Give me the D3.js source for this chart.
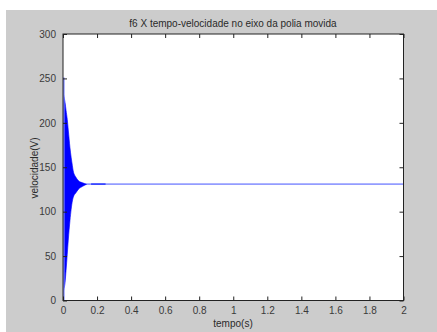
<!DOCTYPE html>
<html>
<head>
<meta charset="utf-8">
<script src="https://cdn.jsdelivr.net/npm/d3@7"></script>
<style>
  html, body { margin: 0; padding: 0; background: #ffffff; }
  svg { display: block; }
  text { font-family: "Liberation Sans", Arial, Helvetica, sans-serif; }
</style>
</head>
<body>
<svg id="chart" width="437" height="332"></svg>
<script>
// ---- data ----
const titleText = "f6 X tempo-velocidade no eixo da polia movida";
const xLabelText = "tempo(s)";
const yLabelText = "velocidade(V)";
const xTicks = [0, 0.2, 0.4, 0.6, 0.8, 1, 1.2, 1.4, 1.6, 1.8, 2];
const yTicks = [0, 50, 100, 150, 200, 250, 300];
// envelope of the fast oscillation during the transient
const envTime  = [0, 0.004, 0.012, 0.018, 0.025, 0.031, 0.041, 0.055, 0.06, 0.075, 0.09, 0.115, 0.14];
const envUpper = [234, 231, 223, 214, 204, 192, 172, 152, 146, 139, 135, 132.5, 131];
const envLower = [8, 12, 20, 34, 52, 68, 90, 112, 116, 121, 125, 128.5, 131];
// initial spike at t = 0
const spikeTime = [0, 0];
const spikeValue = [0, 251];
// steady state trace
const steadyTime = [0.14, 2];
const steadyValue = [131, 131];
// small residual ripple segment
const rippleTime = [0.165, 0.25];
const rippleValue = [131, 131];

// ---- layout ----
const svg = d3.select("#chart");
const W = 437, H = 332;
const m = { left: 63, right: 403.5, top: 34, bottom: 300.5 };

svg.append("rect").attr("x", 6).attr("y", 10).attr("width", W - 6).attr("height", H - 10)
  .attr("fill", "#cccccc");

const x = d3.scaleLinear().domain([0, 2]).range([m.left, m.right]);
const y = d3.scaleLinear().domain([0, 300]).range([m.bottom, m.top]);

svg.append("rect").attr("x", m.left).attr("y", m.top)
  .attr("width", m.right - m.left).attr("height", m.bottom - m.top)
  .attr("fill", "#ffffff");

svg.append("clipPath").attr("id", "clip").append("rect")
  .attr("x", m.left).attr("y", m.top).attr("width", m.right - m.left).attr("height", m.bottom - m.top);

const plot = svg.append("g").attr("clip-path", "url(#clip)");

// steady trace
const line = d3.line().x(d => x(d[0])).y(d => y(d[1]));
plot.append("path").datum(d3.zip(steadyTime, steadyValue)).attr("d", line)
  .attr("fill", "none").attr("stroke", "#939cff").attr("stroke-width", 1.9);
plot.append("path").datum(d3.zip(rippleTime, rippleValue)).attr("d", line)
  .attr("fill", "none").attr("stroke", "#3a48ff").attr("stroke-width", 1.6);

// oscillation envelope
const area = d3.area().x(d => x(d[0])).y0(d => y(d[2])).y1(d => y(d[1])).curve(d3.curveMonotoneX);
plot.append("path").datum(d3.zip(envTime, envUpper, envLower)).attr("d", area)
  .attr("fill", "#0000ff").attr("stroke", "#0000ff").attr("stroke-width", 0.6);

// initial spike
plot.append("path").datum(d3.zip(spikeTime, spikeValue)).attr("d", line)
  .attr("fill", "none").attr("stroke", "#7d86ff").attr("stroke-width", 1.6)
  .attr("transform", "translate(0.8,0)");

// ---- axes (MATLAB style, ticks inside, on all four sides) ----
const axColor = "#222222";
const fmt = d => String(+d.toFixed(1));
function styleAxis(g) {
  g.select(".domain").remove();
  g.selectAll(".tick line").attr("stroke", axColor).attr("stroke-width", 1);
  g.selectAll(".tick text").attr("fill", "#3a3a3a").style("font-size", "10px")
    .style("font-family", "'Liberation Sans', Arial, sans-serif");
}
svg.append("g").attr("transform", `translate(0,${m.bottom})`)
  .call(d3.axisBottom(x).tickValues(xTicks).tickFormat(fmt).tickSizeInner(-4).tickSizeOuter(0).tickPadding(6))
  .call(styleAxis);
svg.append("g").attr("transform", `translate(0,${m.top})`)
  .call(d3.axisTop(x).tickValues(xTicks).tickFormat("").tickSizeInner(-4).tickSizeOuter(0))
  .call(styleAxis);
svg.append("g").attr("transform", `translate(${m.left},0)`)
  .call(d3.axisLeft(y).tickValues(yTicks).tickFormat(d3.format("d")).tickSizeInner(-4).tickSizeOuter(0).tickPadding(7))
  .call(styleAxis);
svg.append("g").attr("transform", `translate(${m.right},0)`)
  .call(d3.axisRight(y).tickValues(yTicks).tickFormat("").tickSizeInner(-4).tickSizeOuter(0))
  .call(styleAxis);

// box
svg.append("rect").attr("x", m.left).attr("y", m.top)
  .attr("width", m.right - m.left).attr("height", m.bottom - m.top)
  .attr("fill", "none").attr("stroke", axColor).attr("stroke-width", 1);

// ---- texts ----
svg.append("text").attr("x", 233).attr("y", 27).attr("text-anchor", "middle")
  .attr("fill", "#2a2a2a").style("font-size", "10px").text(titleText);
svg.append("text").attr("x", 233).attr("y", 327).attr("text-anchor", "middle")
  .attr("fill", "#2a2a2a").style("font-size", "10px").text(xLabelText);
svg.append("text").attr("transform", "translate(38,168) rotate(-90)").attr("text-anchor", "middle")
  .attr("fill", "#2a2a2a").style("font-size", "10px").text(yLabelText);
</script>
</body>
</html>
